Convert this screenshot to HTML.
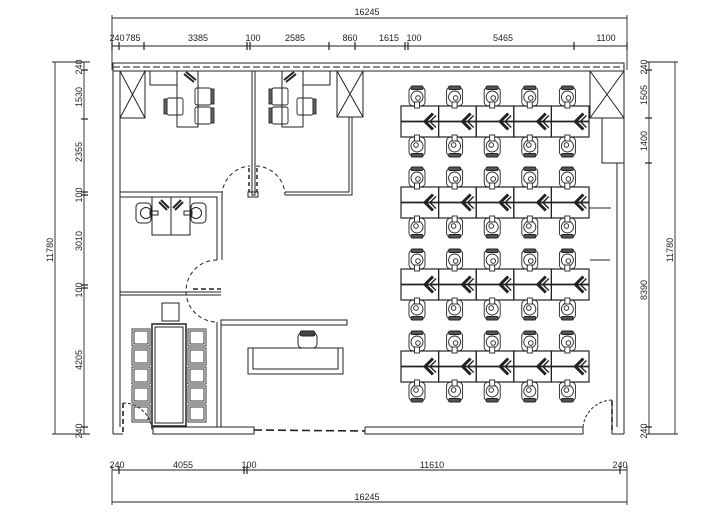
<!DOCTYPE html>
<html><head><meta charset="utf-8"><style>
html,body{margin:0;padding:0;background:#fff;width:715px;height:512px;overflow:hidden}
svg{display:block}
text{font-family:"Liberation Sans",sans-serif;font-size:9px;fill:#222}
</style></head><body>
<svg width="715" height="512" viewBox="0 0 715 512" xmlns="http://www.w3.org/2000/svg">
<defs>
<g id="wc" fill="none" stroke="#222" stroke-width="0.9">
<rect x="-8" y="-10" width="16" height="19" rx="4"/>
<rect x="-6" y="-11" width="12" height="3.5" rx="1.5" fill="#555"/>
<circle cx="0" cy="0" r="6"/>
<circle cx="1" cy="1" r="2.3"/>
<rect x="-2.5" y="5" width="5" height="6" fill="#fff"/>
</g>
<g id="chev" fill="none" stroke="#222" stroke-width="3">
<polyline points="10,-8 2,0 10,8"/>
<polyline points="13,-6 7,0 13,6" stroke-width="1.4"/>
</g>
<g id="cell" fill="none" stroke="#222">
<rect x="0" y="0" width="37.6" height="31" stroke-width="1.2"/>
<line x1="0" y1="15.5" x2="37.6" y2="15.5" stroke-width="1.8"/>
<use href="#chev" x="22" y="15.5"/>
<use href="#wc" x="16" y="-9"/>
<use href="#wc" transform="translate(16,40) rotate(180)"/>
</g>
<g id="row">
<use href="#cell" x="0"/><use href="#cell" x="37.6"/><use href="#cell" x="75.2"/><use href="#cell" x="112.8"/><use href="#cell" x="150.4"/>
</g>
<g id="oc" fill="none" stroke="#222" stroke-width="0.9">
<rect x="0" y="0" width="16" height="17" rx="2"/>
<rect x="-3" y="1" width="3" height="15" fill="#666"/>
</g>
<g id="mc" fill="none" stroke="#222" stroke-width="0.9">
<rect x="0" y="0" width="18" height="17"/><rect x="2" y="2" width="14" height="13"/>
</g>
</defs>

<g stroke="#222" fill="none" stroke-width="0.9">
<line x1="112" y1="18" x2="627" y2="18"/>
<line x1="112" y1="15" x2="112" y2="70"/><line x1="627" y1="15" x2="627" y2="70"/>
<line x1="112" y1="46" x2="627" y2="46"/>
<g stroke-width="1.2">
<line x1="112" y1="42" x2="112" y2="50"/><line x1="119" y1="42" x2="119" y2="50"/><line x1="144" y1="42" x2="144" y2="50"/>
<line x1="247" y1="42" x2="247" y2="50"/><line x1="250" y1="42" x2="250" y2="50"/><line x1="329" y1="42" x2="329" y2="50"/>
<line x1="355" y1="42" x2="355" y2="50"/><line x1="405" y1="42" x2="405" y2="50"/><line x1="408" y1="42" x2="408" y2="50"/>
<line x1="574" y1="42" x2="574" y2="50"/><line x1="627" y1="42" x2="627" y2="50"/>
</g>
<line x1="55" y1="62" x2="55" y2="434"/><line x1="52" y1="62" x2="90" y2="62"/><line x1="52" y1="434" x2="90" y2="434"/>
<line x1="84" y1="62" x2="84" y2="434"/>
<g stroke-width="1.2">
<line x1="81" y1="70" x2="88" y2="70"/><line x1="81" y1="119" x2="88" y2="119"/><line x1="81" y1="192" x2="88" y2="192"/><line x1="81" y1="195" x2="88" y2="195"/>
<line x1="81" y1="285" x2="88" y2="285"/><line x1="81" y1="288" x2="88" y2="288"/><line x1="81" y1="427" x2="88" y2="427"/>
</g>
<line x1="675" y1="62" x2="675" y2="434"/><line x1="646" y1="62" x2="678" y2="62"/><line x1="646" y1="434" x2="678" y2="434"/>
<line x1="649" y1="62" x2="649" y2="434"/>
<g stroke-width="1.2">
<line x1="645" y1="70" x2="652" y2="70"/><line x1="645" y1="118" x2="652" y2="118"/><line x1="645" y1="163" x2="652" y2="163"/><line x1="645" y1="427" x2="652" y2="427"/>
</g>
<line x1="112" y1="470" x2="627" y2="470"/><line x1="112" y1="502" x2="627" y2="502"/>
<line x1="112" y1="466" x2="112" y2="505"/><line x1="627" y1="466" x2="627" y2="505"/>
<g stroke-width="1.2"><line x1="119" y1="466" x2="119" y2="474"/><line x1="244" y1="466" x2="244" y2="474"/><line x1="247" y1="466" x2="247" y2="474"/><line x1="620" y1="466" x2="620" y2="474"/></g>
</g>

<text x="367" y="15" text-anchor="middle">16245</text>
<text x="117" y="41" text-anchor="middle">240</text><text x="133" y="41" text-anchor="middle">785</text>
<text x="198" y="41" text-anchor="middle">3385</text><text x="253" y="41" text-anchor="middle">100</text>
<text x="295" y="41" text-anchor="middle">2585</text><text x="350" y="41" text-anchor="middle">860</text>
<text x="389" y="41" text-anchor="middle">1615</text><text x="414" y="41" text-anchor="middle">100</text>
<text x="503" y="41" text-anchor="middle">5465</text><text x="606" y="41" text-anchor="middle">1100</text>
<text x="117" y="468" text-anchor="middle">240</text><text x="183" y="468" text-anchor="middle">4055</text>
<text x="249" y="468" text-anchor="middle">100</text><text x="432" y="468" text-anchor="middle">11610</text>
<text x="620" y="468" text-anchor="middle">240</text>
<text x="367" y="500" text-anchor="middle">16245</text>
<g>
<text transform="translate(82,67) rotate(-90)" text-anchor="middle">240</text>
<text transform="translate(82,97) rotate(-90)" text-anchor="middle">1530</text>
<text transform="translate(82,152) rotate(-90)" text-anchor="middle">2355</text>
<text transform="translate(82,195) rotate(-90)" text-anchor="middle">100</text>
<text transform="translate(82,241) rotate(-90)" text-anchor="middle">3010</text>
<text transform="translate(82,290) rotate(-90)" text-anchor="middle">100</text>
<text transform="translate(82,360) rotate(-90)" text-anchor="middle">4205</text>
<text transform="translate(82,431) rotate(-90)" text-anchor="middle">240</text>
<text transform="translate(53,250) rotate(-90)" text-anchor="middle">11780</text>
<text transform="translate(647,67) rotate(-90)" text-anchor="middle">240</text>
<text transform="translate(647,95) rotate(-90)" text-anchor="middle">1505</text>
<text transform="translate(647,141) rotate(-90)" text-anchor="middle">1400</text>
<text transform="translate(647,290) rotate(-90)" text-anchor="middle">8390</text>
<text transform="translate(647,431) rotate(-90)" text-anchor="middle">240</text>
<text transform="translate(673,250) rotate(-90)" text-anchor="middle">11780</text>
</g>

<g stroke="#222" fill="none" stroke-width="1">
<rect x="113" y="63" width="511" height="8"/>
<line x1="113" y1="67" x2="624" y2="67" stroke-dasharray="7,3" stroke-width="1.6" stroke="#666"/>
<line x1="113" y1="71" x2="113" y2="434"/><line x1="120" y1="71" x2="120" y2="427"/>
<line x1="624" y1="71" x2="624" y2="434"/><line x1="617" y1="163" x2="617" y2="427"/>
<polyline points="113,434 123,434"/>
<rect x="153" y="427" width="101" height="7"/>
<line x1="254" y1="430" x2="365" y2="431" stroke-dasharray="8,4" stroke-width="1.6"/>
<polyline points="365,427 583,427 583,434 365,434 365,427"/>
<polyline points="612,400 612,434 624,434"/>
<line x1="612" y1="401" x2="612" y2="430" stroke-dasharray="5,3" stroke-width="1.6"/>
<path d="M583,427 A30,30 0 0 1 612,400" stroke-dasharray="3,2"/>
<line x1="123" y1="403" x2="123" y2="434" stroke-dasharray="5,3" stroke-width="1.6"/>
<path d="M123,403 A29,29 0 0 1 152,430" stroke-dasharray="3,2"/>
<rect x="120" y="71" width="25" height="47"/><line x1="120" y1="71" x2="145" y2="118"/><line x1="145" y1="71" x2="120" y2="118"/>
<rect x="337" y="71" width="26" height="46"/><line x1="337" y1="71" x2="363" y2="117"/><line x1="363" y1="71" x2="337" y2="117"/>
<rect x="590" y="71" width="34" height="47"/><line x1="590" y1="71" x2="624" y2="118"/><line x1="624" y1="71" x2="590" y2="118"/>
<rect x="602" y="118" width="22" height="45"/>
<rect x="252" y="71" width="3" height="124"/>
<polyline points="349,117 349,192 285,192"/><polyline points="352,117 352,195 285,195"/>
<rect x="248" y="192" width="10" height="5"/>
<path d="M222,195 A30,30 0 0 1 250,166" stroke-dasharray="4,3"/>
<path d="M256,166 A30,30 0 0 1 285,195" stroke-dasharray="4,3"/>
<line x1="249" y1="168" x2="249" y2="192" stroke-dasharray="4,3" stroke-width="1.5"/>
<line x1="257" y1="168" x2="257" y2="192" stroke-dasharray="4,3" stroke-width="1.5"/>
<polyline points="120,192 222,192"/><polyline points="120,197 217,197 217,260"/><polyline points="222,195 222,260"/>
<polyline points="120,292 221,292"/><polyline points="120,295 221,295"/>
<line x1="193" y1="289" x2="221" y2="289" stroke-dasharray="5,3" stroke-width="1.5"/>
<path d="M217,260 A31,31 0 0 0 217,322" stroke-dasharray="4,3"/>
<polyline points="217,322 217,427"/><polyline points="221,322 221,427"/>
<rect x="221" y="320" width="126" height="5"/>
<rect x="248" y="348" width="95" height="26"/><polyline points="253,348 253,369 338,369 338,348"/>
<rect x="298" y="333" width="19" height="15" rx="4"/><rect x="300" y="331" width="15" height="5" rx="2" fill="#444"/>
<rect x="152" y="324" width="34" height="102" stroke-width="1.5"/><rect x="155" y="327" width="28" height="96"/>
<rect x="162" y="303" width="17" height="18"/>
<use href="#mc" x="132" y="329"/><use href="#mc" x="132" y="348"/><use href="#mc" x="132" y="367"/><use href="#mc" x="132" y="386"/><use href="#mc" x="132" y="405"/>
<use href="#mc" x="188" y="329"/><use href="#mc" x="188" y="348"/><use href="#mc" x="188" y="367"/><use href="#mc" x="188" y="386"/><use href="#mc" x="188" y="405"/>
<rect x="150" y="71" width="27" height="14"/>
<rect x="177" y="71" width="21" height="56"/>
<path d="M184,74 l10,8 M186,72 l10,8" stroke-width="2"/>
<use href="#oc" transform="translate(211,88) scale(-1,1)"/><use href="#oc" transform="translate(211,107) scale(-1,1)"/>
<use href="#oc" x="167" y="98"/>
<rect x="303" y="71" width="27" height="14"/>
<rect x="282" y="71" width="21" height="56"/>
<path d="M296,74 l-10,8 M294,72 l-10,8" stroke-width="2"/>
<use href="#oc" x="272" y="88"/><use href="#oc" x="272" y="107"/>
<use href="#oc" transform="translate(313,98) scale(-1,1)"/>
<rect x="152" y="197" width="38" height="38"/><line x1="171" y1="197" x2="171" y2="235"/>
<path d="M159,202 l8,8 M161,200 l8,8 M183,202 l-8,8 M181,200 l-8,8" stroke-width="2"/>
<g><rect x="136" y="203" width="15" height="20" rx="4"/><circle cx="146" cy="213" r="5.5"/><rect x="150" y="211" width="8" height="4"/></g>
<g><rect x="191" y="203" width="15" height="20" rx="4"/><circle cx="196" cy="213" r="5.5"/><rect x="184" y="211" width="8" height="4"/></g>
<line x1="589" y1="208" x2="611" y2="208"/><line x1="590" y1="260" x2="610" y2="260"/>
</g>

<use href="#row" x="401" y="106"/>
<use href="#row" x="401" y="187"/>
<use href="#row" x="401" y="269"/>
<use href="#row" x="401" y="351"/>
</svg>
</body></html>
